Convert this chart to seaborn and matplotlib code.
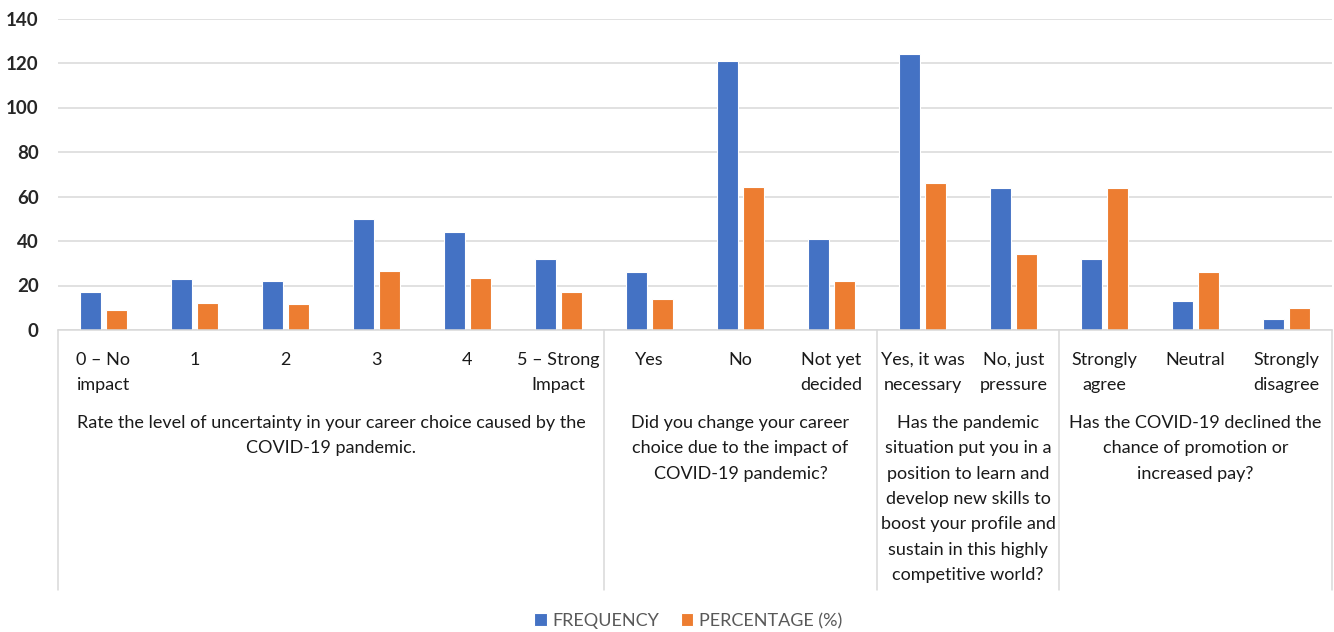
import matplotlib
matplotlib.use("Agg")
import matplotlib.pyplot as plt
import matplotlib.font_manager as fm
from matplotlib.transforms import blended_transform_factory
import seaborn as sns
import pandas as pd

# Survey answers (x categories), grouped by question
categories = [
    "0 – No\nimpact", "1", "2", "3", "4", "5 – Strong\nImpact",
    "Yes", "No", "Not yet\ndecided",
    "Yes, it was\nnecessary", "No, just\npressure",
    "Strongly\nagree", "Neutral", "Strongly\ndisagree",
]
frequency = [17, 23, 22, 50, 44, 32, 26, 121, 41, 124, 64, 32, 13, 5]
percentage = [9.0, 12.2, 11.7, 26.6, 23.4, 17.0, 13.8, 64.4, 21.8, 66.0, 34.0, 64.0, 26.0, 10.0]

questions = [
    "Rate the level of uncertainty in your career choice caused by the\nCOVID-19 pandemic.",
    "Did you change your career\nchoice due to the impact of\nCOVID-19 pandemic?",
    "Has the pandemic\nsituation put you in a\nposition to learn and\ndevelop new skills to\nboost your profile and\nsustain in this highly\ncompetitive world?",
    "Has the COVID-19 declined the\nchance of promotion or\nincreased pay?",
]
question_sizes = [6, 3, 2, 3]
series_names = ["FREQUENCY", "PERCENTAGE (%)"]
colors = ["#4472C4", "#ED7D31"]

available = {f.name for f in fm.fontManager.ttflist}
FONT = "Liberation Sans Narrow" if "Liberation Sans Narrow" in available else "Lato"
LINESP = 1.72

sns.set_theme(style="white")
plt.rcParams["font.family"] = [FONT, "DejaVu Sans"]

df = pd.DataFrame({
    "answer": categories * 2,
    "value": frequency + percentage,
    "series": [series_names[0]] * len(categories) + [series_names[1]] * len(categories),
})

fig = plt.figure(figsize=(13.34, 6.32), dpi=100)
W, H = 1334, 632
ax = fig.add_axes([58 / W, 1 - 330 / H, (1332 - 58) / W, (330 - 18.5) / H])

sns.barplot(
    data=df, x="answer", y="value", hue="series", order=categories,
    hue_order=series_names, palette=colors, saturation=1, width=0.57, gap=0.2,
    edgecolor="white", linewidth=0.8, ax=ax,
)

handles, labels = ax.get_legend_handles_labels()
ax.get_legend().remove()

ax.set_xlim(-0.5, len(categories) - 0.5)
ax.set_ylim(0, 140)
ax.set_yticks(range(0, 141, 20))
ax.set_xlabel("")
ax.set_ylabel("")
ax.grid(axis="y", color="#D9D9D9", linewidth=1.1)
ax.set_axisbelow(True)
for side in ["top", "right", "left"]:
    ax.spines[side].set_visible(False)
ax.spines["bottom"].set_color("#D9D9D9")
ax.spines["bottom"].set_linewidth(1.1)

ax.tick_params(axis="y", length=0, pad=14, labelsize=13.5, labelcolor="#262626")
for t in ax.get_yticklabels():
    t.set_fontweight("bold")
ax.tick_params(axis="x", length=0, pad=15.5, labelsize=13, labelcolor="#1a1a1a")
for t in ax.get_xticklabels():
    t.set_linespacing(LINESP)
    t.set_va("top")

# Question group separators and labels below the axis
trans = blended_transform_factory(ax.transData, fig.transFigure)
bounds = [-0.5]
for n in question_sizes:
    bounds.append(bounds[-1] + n)
for b in bounds:
    ax.plot([b, b], [1 - 330 / H, 1 - 590 / H], transform=trans, color="#D9D9D9",
            linewidth=1.1, clip_on=False)
for q, lo, hi in zip(questions, bounds[:-1], bounds[1:]):
    ax.text((lo + hi) / 2, 1 - 415 / H, q, transform=trans, ha="center", va="top",
            fontsize=13, color="#1a1a1a", linespacing=LINESP)

fig.legend(handles, labels, loc="center", bbox_to_anchor=(688 / W, 1 - 621 / H),
           ncol=2, frameon=False, fontsize=13, labelcolor="#595959",
           handlelength=0.7, handleheight=0.7, handletextpad=0.3, columnspacing=1.2)

fig.savefig("out.png", dpi=100)
